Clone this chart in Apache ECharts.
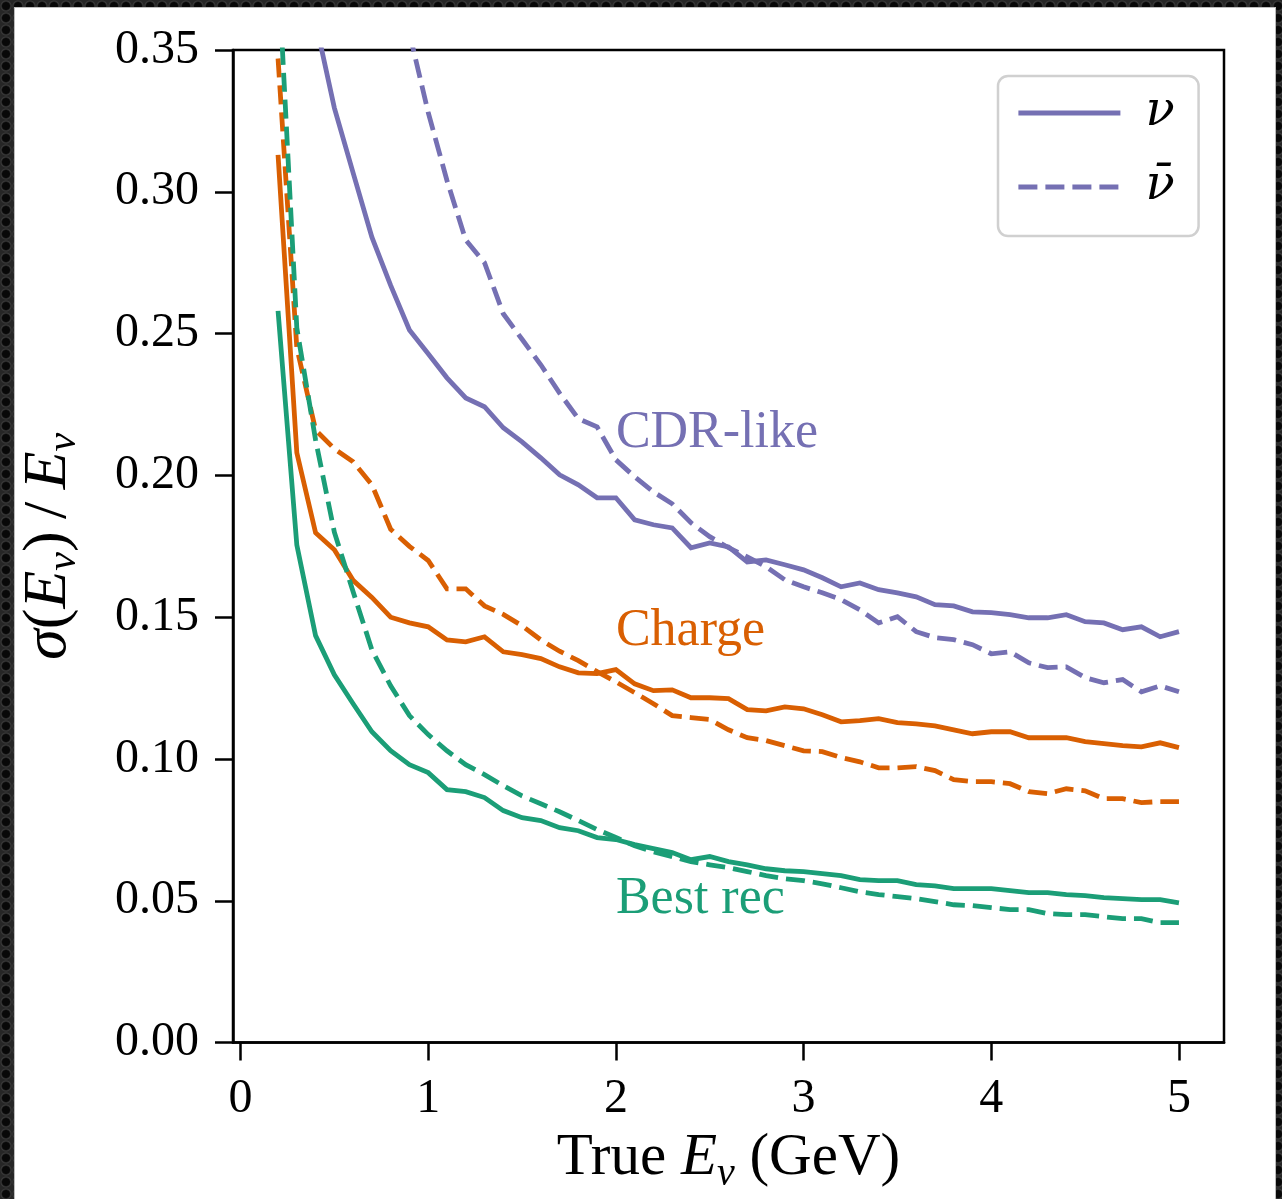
<!DOCTYPE html>
<html>
<head>
<meta charset="utf-8">
<script src="https://cdn.jsdelivr.net/npm/echarts@6/dist/echarts.min.js"></script>
<style>
  html, body { margin: 0; padding: 0; }
  body {
    width: 1282px; height: 1199px; overflow: hidden; position: relative;
    background-color: #2e2e2e;
    background-image: radial-gradient(circle at center, #080808 0px, #080808 3.5px, #3a3a3a 5px, #262626 6px);
    background-size: 12px 12px;
  }
  #panel { position: absolute; left: 15px; top: 8px; width: 1260px; height: 1200px; background: #fff; box-shadow: 0 0 0 1px #bdbdbd; }
  #chart { position: absolute; left: 0; top: 0; width: 1282px; height: 1199px; }
</style>
</head>
<body>
<div id="panel"></div>
<div id="chart"></div>
<script>
// True neutrino energy (GeV)
const energy = [0.2,0.3,0.4,0.5,0.6,0.7,0.8,0.9,1.0,1.1,1.2,1.3,1.4,1.5,1.6,1.7,1.8,1.9,2.0,2.1,2.2,2.3,2.4,2.5,2.6,2.7,2.8,2.9,3.0,3.1,3.2,3.3,3.4,3.5,3.6,3.7,3.8,3.9,4.0,4.1,4.2,4.3,4.4,4.5,4.6,4.7,4.8,4.9,5.0];

// CDR-like
const cdrNu    = [0.47,0.40,0.360,0.3296,0.3067,0.284,0.267,0.2513,0.2429,0.2344,0.2273,0.2242,0.2168,0.2118,0.2062,0.2002,0.1967,0.1921,0.1921,0.1843,0.1826,0.1815,0.1745,0.1762,0.1748,0.1695,0.1702,0.1685,0.1667,0.1639,0.1607,0.1621,0.1597,0.1586,0.1572,0.1544,0.154,0.1519,0.1516,0.1509,0.1498,0.1498,0.1509,0.1484,0.148,0.1456,0.1466,0.1431,0.1449];
const cdrNubar = [null,null,null,null,null,null,null,0.356,0.328,0.304,0.283,0.275,0.257,0.248,0.239,0.229,0.220,0.2171,0.2055,0.1995,0.1942,0.190,0.1833,0.1784,0.1745,0.1713,0.1678,0.1632,0.1607,0.1586,0.1562,0.1526,0.148,0.1502,0.1449,0.1428,0.1421,0.1403,0.1371,0.1378,0.1339,0.1322,0.1325,0.1287,0.1269,0.128,0.1237,0.1258,0.1237];

// Charge
const chargeNu    = [0.313,0.208,0.1798,0.1738,0.163,0.157,0.150,0.148,0.1466,0.142,0.1413,0.1431,0.1378,0.1368,0.1354,0.1325,0.1304,0.1301,0.1315,0.1265,0.1241,0.1244,0.1216,0.1216,0.1213,0.1174,0.1170,0.1184,0.1177,0.1156,0.1131,0.1135,0.1142,0.1128,0.1124,0.1117,0.1103,0.1089,0.1096,0.1096,0.1075,0.1075,0.1075,0.1061,0.1054,0.1047,0.1043,0.1057,0.1040];
const chargeNubar = [0.347,0.245,0.216,0.2094,0.2048,0.1967,0.181,0.175,0.170,0.160,0.160,0.154,0.151,0.147,0.142,0.138,0.1347,0.1308,0.1272,0.1234,0.1195,0.1153,0.1146,0.1139,0.1103,0.1075,0.1065,0.1047,0.1029,0.1026,0.1005,0.0990,0.0969,0.0969,0.0973,0.0959,0.0927,0.092,0.092,0.0913,0.0885,0.0878,0.0895,0.0888,0.086,0.086,0.0846,0.085,0.085];

// Best rec
const bestNu    = [0.258,0.1755,0.1435,0.1297,0.1195,0.1096,0.1029,0.098,0.0952,0.0892,0.0885,0.0864,0.0818,0.0793,0.0783,0.0758,0.0747,0.0723,0.0716,0.0698,0.0684,0.0670,0.0645,0.0656,0.0638,0.0627,0.0613,0.0606,0.0603,0.0596,0.0589,0.0575,0.0571,0.0571,0.0557,0.0553,0.0543,0.0543,0.0543,0.0536,0.0529,0.0529,0.0522,0.0518,0.0511,0.0508,0.0504,0.0504,0.0493];
const bestNubar = [0.38,0.252,0.2125,0.180,0.159,0.1385,0.1258,0.1153,0.1086,0.1029,0.098,0.0945,0.0906,0.087,0.0842,0.0814,0.0783,0.0751,0.0723,0.0694,0.0673,0.0656,0.0638,0.0627,0.0617,0.0603,0.0589,0.0578,0.0571,0.0560,0.0546,0.0532,0.0522,0.0515,0.0508,0.0497,0.0486,0.0483,0.0476,0.0469,0.0469,0.0455,0.0451,0.0451,0.0444,0.0437,0.0437,0.0423,0.0423];

const xTicks = [0, 1, 2, 3, 4, 5];
const groupLabels = [
  { text: 'CDR-like', x: 2.0, y: 0.215, color: '#7570b3' },
  { text: 'Charge',   x: 2.0, y: 0.145, color: '#d95f02' },
  { text: 'Best rec', x: 2.0, y: 0.0505, color: '#1b9e77' }
];
const nuName = '\u03bd';
const nubarName = '\u03bd\u0304';

const PURPLE = '#7570b3', ORANGE = '#d95f02', GREEN = '#1b9e77';
const FONT = '"Liberation Serif", "DejaVu Serif", serif';
const LW = 4.8;
const DASH = [19, 8];

function pairs(ys) { return energy.map((e, i) => [e, ys[i]]); }
function mkSeries(name, ys, color, dashed) {
  return {
    name: name, type: 'line', data: pairs(ys), symbol: 'none', showSymbol: false,
    clip: true, silent: true, animation: false,
    lineStyle: { color: color, width: LW, type: dashed ? DASH : 'solid', cap: 'butt', join: 'miter' },
    itemStyle: { color: color },
    emphasis: { disabled: true }
  };
}

const chart = echarts.init(document.getElementById('chart'), null, { renderer: 'canvas' });

function rich(size) {
  return {
    it: { fontFamily: FONT, fontStyle: 'italic', fontSize: size, lineHeight: 72, verticalAlign: 'middle', color: '#000' },
    rm: { fontFamily: FONT, fontSize: size, lineHeight: 72, verticalAlign: 'middle', color: '#000' },
    sub: { fontFamily: FONT, fontStyle: 'italic', fontSize: Math.round(size * 0.68), lineHeight: 46, verticalAlign: 'bottom', color: '#000' }
  };
}

const option = {
  backgroundColor: 'transparent',
  animation: false,
  grid: { left: 233, top: 50, right: 58, bottom: 156, show: true, borderColor: '#000', borderWidth: 2.5, backgroundColor: 'transparent' },
  xAxis: {
    type: 'value', min: -0.04, max: 5.24,
    axisLine: { show: true, onZero: false, lineStyle: { color: '#000', width: 2.5 } },
    axisTick: { show: true, length: 18, inside: false, customValues: xTicks, lineStyle: { color: '#000', width: 2.5 } },
    axisLabel: { customValues: xTicks, fontFamily: FONT, fontSize: 48, color: '#000', margin: 33, formatter: v => String(v) },
    splitLine: { show: false },
    name: '{rm|True }{it|E}{sub|\u03bd}{rm| (GeV)}',
    nameLocation: 'middle', nameGap: 79,
    nameTextStyle: { rich: rich(59) }
  },
  yAxis: {
    type: 'value', min: 0, max: 0.35, interval: 0.05,
    axisLine: { show: true, onZero: false, lineStyle: { color: '#000', width: 2.5 } },
    axisTick: { show: true, length: 18, inside: false, lineStyle: { color: '#000', width: 2.5 } },
    axisLabel: { fontFamily: FONT, fontSize: 48, color: '#000', margin: 34, formatter: v => v.toFixed(2) },
    splitLine: { show: false },
    name: '{it|\u03c3}{rm|(}{it|E}{sub|\u03bd}{rm|)\u2009/\u2009}{it|E}{sub|\u03bd}',
    nameLocation: 'middle', nameGap: 148, nameRotate: 90,
    nameTextStyle: { rich: rich(62) }
  },
  legend: {
    show: true, orient: 'vertical', left: 998, top: 76,
    data: [nuName, nubarName],
    itemWidth: 102, itemHeight: 1, itemGap: 20,
    padding: [10, 24, 22, 18],
    backgroundColor: '#fff', borderColor: '#d0d0d0', borderWidth: 2.5, borderRadius: 10,
    lineStyle: { width: LW },
    itemStyle: { color: 'rgba(0,0,0,0)', borderWidth: 0, opacity: 0 },
    textStyle: { fontFamily: '"DejaVu Serif", serif', fontStyle: 'italic', fontSize: 48, lineHeight: 54, color: '#000', padding: [0, 0, 0, 20] },
    selectedMode: false
  },
  series: [
    mkSeries(nuName, cdrNu, PURPLE, false),
    mkSeries(nubarName, cdrNubar, PURPLE, true),
    mkSeries('Charge \u03bd', chargeNu, ORANGE, false),
    mkSeries('Charge \u03bd\u0304', chargeNubar, ORANGE, true),
    mkSeries('Best rec \u03bd', bestNu, GREEN, false),
    mkSeries('Best rec \u03bd\u0304', bestNubar, GREEN, true)
  ]
};
chart.setOption(option);

const graphics = groupLabels.map(g => {
  const p = chart.convertToPixel({ gridIndex: 0 }, [g.x, g.y]);
  return {
    type: 'text', x: p[0], y: p[1], silent: true,
    style: { text: g.text, fill: g.color, fontFamily: FONT, fontSize: 52, textAlign: 'left', textVerticalAlign: 'middle' }
  };
});
chart.setOption({ graphic: graphics });
</script>
</body>
</html>
